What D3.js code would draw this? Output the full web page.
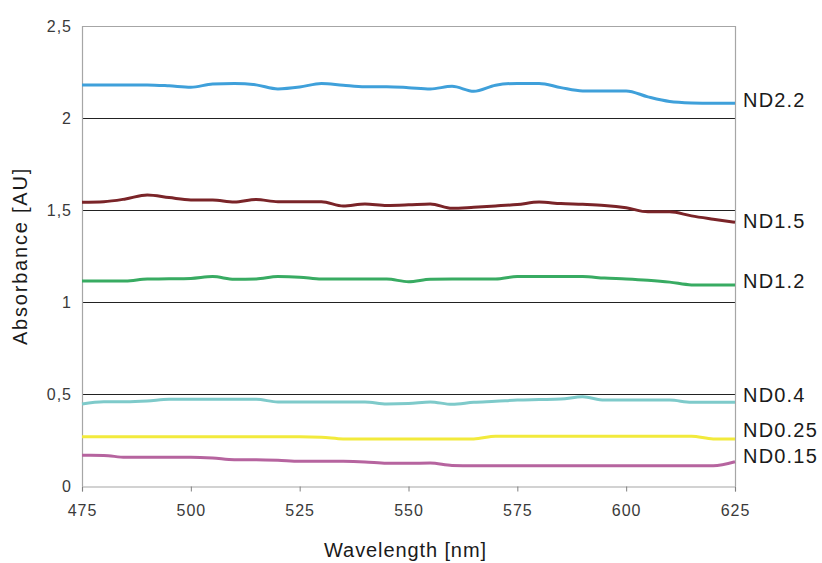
<!DOCTYPE html>
<html>
<head>
<meta charset="utf-8">
<script src="https://cdn.jsdelivr.net/npm/d3@7"></script>
<style>
  html, body { margin: 0; padding: 0; background: #fff; }
  svg { display: block; font-family: "Liberation Sans", Arial, sans-serif; }
</style>
</head>
<body>
<svg id="chart" width="822" height="563"></svg>
<script>
// Wavelength sampling (nm)
const wavelengths = [475,480,485,490,495,500,505,510,515,520,525,530,535,540,545,550,
                     555,560,565,570,575,580,585,590,595,600,605,610,615,620,625];

// Absorbance per filter
const nd22  = [2.180,2.180,2.180,2.180,2.175,2.167,2.185,2.188,2.180,2.158,2.168,2.188,2.178,2.170,2.170,2.165,
               2.158,2.172,2.145,2.178,2.188,2.188,2.165,2.147,2.147,2.147,2.115,2.090,2.082,2.080,2.080];
const nd15  = [1.542,1.545,1.560,1.582,1.568,1.555,1.554,1.543,1.557,1.545,1.545,1.545,1.522,1.533,1.525,1.528,
               1.533,1.509,1.515,1.522,1.530,1.543,1.535,1.531,1.525,1.512,1.490,1.490,1.468,1.450,1.433];
const nd12  = [1.114,1.114,1.114,1.125,1.126,1.128,1.138,1.123,1.125,1.138,1.135,1.125,1.125,1.125,1.125,1.110,
               1.123,1.125,1.125,1.125,1.138,1.138,1.138,1.138,1.130,1.125,1.118,1.108,1.093,1.092,1.092];
const nd04  = [0.446,0.458,0.458,0.462,0.471,0.471,0.471,0.471,0.471,0.457,0.457,0.457,0.457,0.457,0.446,0.448,
               0.457,0.444,0.455,0.460,0.467,0.470,0.473,0.485,0.467,0.467,0.467,0.467,0.455,0.455,0.455];
const nd025 = [0.267,0.267,0.267,0.267,0.267,0.267,0.267,0.267,0.267,0.267,0.267,0.265,0.256,0.256,0.256,0.256,
               0.256,0.256,0.256,0.271,0.271,0.271,0.271,0.271,0.271,0.271,0.271,0.271,0.271,0.256,0.256];
const nd015 = [0.167,0.166,0.156,0.156,0.156,0.156,0.152,0.143,0.143,0.140,0.134,0.134,0.134,0.131,0.123,0.123,
               0.125,0.112,0.110,0.110,0.110,0.110,0.110,0.110,0.110,0.110,0.110,0.110,0.110,0.110,0.132];

const seriesNames  = ["ND2.2","ND1.5","ND1.2","ND0.4","ND0.25","ND0.15"];
const seriesValues = [nd22, nd15, nd12, nd04, nd025, nd015];
const seriesColors = ["#3fa0da","#7a2428","#38ab62","#7ecaca","#f2ea3c","#b6649f"];
// Absorbance level where each end label sits
const labelLevels  = [2.096, 1.440, 1.114, 0.495, 0.305, 0.164];

const xTicks = [475,500,525,550,575,600,625];
const yTicks = [0,0.5,1,1.5,2,2.5];
const gridLevels = [0.5,1,1.5,2];

const svg = d3.select("#chart");
const plotLeft = 82, plotRight = 735, plotTop = 26, plotBottom = 486;

const x = d3.scaleLinear().domain([475,625]).range([plotLeft,plotRight]);
const y = d3.scaleLinear().domain([0,2.5]).range([plotBottom,plotTop]);

const fmt = d => String(d).replace(".", ",");

// gridlines
svg.append("g").selectAll("line").data(gridLevels).join("line")
  .attr("x1", plotLeft).attr("x2", plotRight)
  .attr("y1", d => y(d) + 0.5).attr("y2", d => y(d) + 0.5)
  .attr("stroke", "#222").attr("stroke-width", 1);

// plot frame: top, left, right
svg.append("path")
  .attr("d", `M${plotLeft + 0.5},${plotBottom}V${plotTop + 0.5}H${plotRight + 0.5}V${plotBottom}`)
  .attr("fill", "none").attr("stroke", "#a6a6a6").attr("stroke-width", 1.2);

// x axis
const xAxis = svg.append("g")
  .attr("transform", `translate(0,${plotBottom + 0.5})`)
  .call(d3.axisBottom(x).tickValues(xTicks).tickSize(5).tickPadding(13).tickFormat(d => d));
xAxis.select(".domain").attr("stroke", "#a6a6a6").attr("stroke-width", 1.2);
xAxis.selectAll(".tick line").attr("stroke", "#808080");
xAxis.selectAll(".tick text")
  .attr("fill", "#3a3a3a").attr("font-size", 16).attr("letter-spacing", 1)
  .attr("font-family", "'Liberation Sans', Arial, sans-serif");

// y axis labels
const yAxis = svg.append("g")
  .attr("transform", `translate(${plotLeft},0)`)
  .call(d3.axisLeft(y).tickValues(yTicks).tickSize(0).tickPadding(10).tickFormat(fmt));
yAxis.select(".domain").remove();
yAxis.selectAll(".tick text")
  .attr("fill", "#3a3a3a").attr("font-size", 16).attr("letter-spacing", 1)
  .attr("font-family", "'Liberation Sans', Arial, sans-serif");

// series lines
const line = d3.line()
  .x((d, i) => x(wavelengths[i]))
  .y(d => y(d))
  .curve(d3.curveMonotoneX);

svg.append("g").selectAll("path").data(seriesValues).join("path")
  .attr("d", d => line(d))
  .attr("fill", "none")
  .attr("stroke", (d, i) => seriesColors[i])
  .attr("stroke-width", 3)
  .attr("stroke-linejoin", "round");

// end labels
svg.append("g").selectAll("text").data(seriesNames).join("text")
  .attr("x", plotRight + 8)
  .attr("y", (d, i) => y(labelLevels[i]) + 7)
  .attr("font-size", 20)
  .attr("letter-spacing", 1.2)
  .attr("fill", "#1a1a1a")
  .text(d => d);

// axis titles
svg.append("text")
  .attr("x", (plotLeft + plotRight) / 2 - 3)
  .attr("y", 557)
  .attr("text-anchor", "middle")
  .attr("font-size", 20)
  .attr("letter-spacing", 0.9)
  .attr("fill", "#1a1a1a")
  .text("Wavelength [nm]");

svg.append("text")
  .attr("transform", `translate(27,${(plotTop + plotBottom) / 2}) rotate(-90)`)
  .attr("text-anchor", "middle")
  .attr("font-size", 20)
  .attr("letter-spacing", 1.8)
  .attr("fill", "#1a1a1a")
  .text("Absorbance [AU]");
</script>
</body>
</html>
